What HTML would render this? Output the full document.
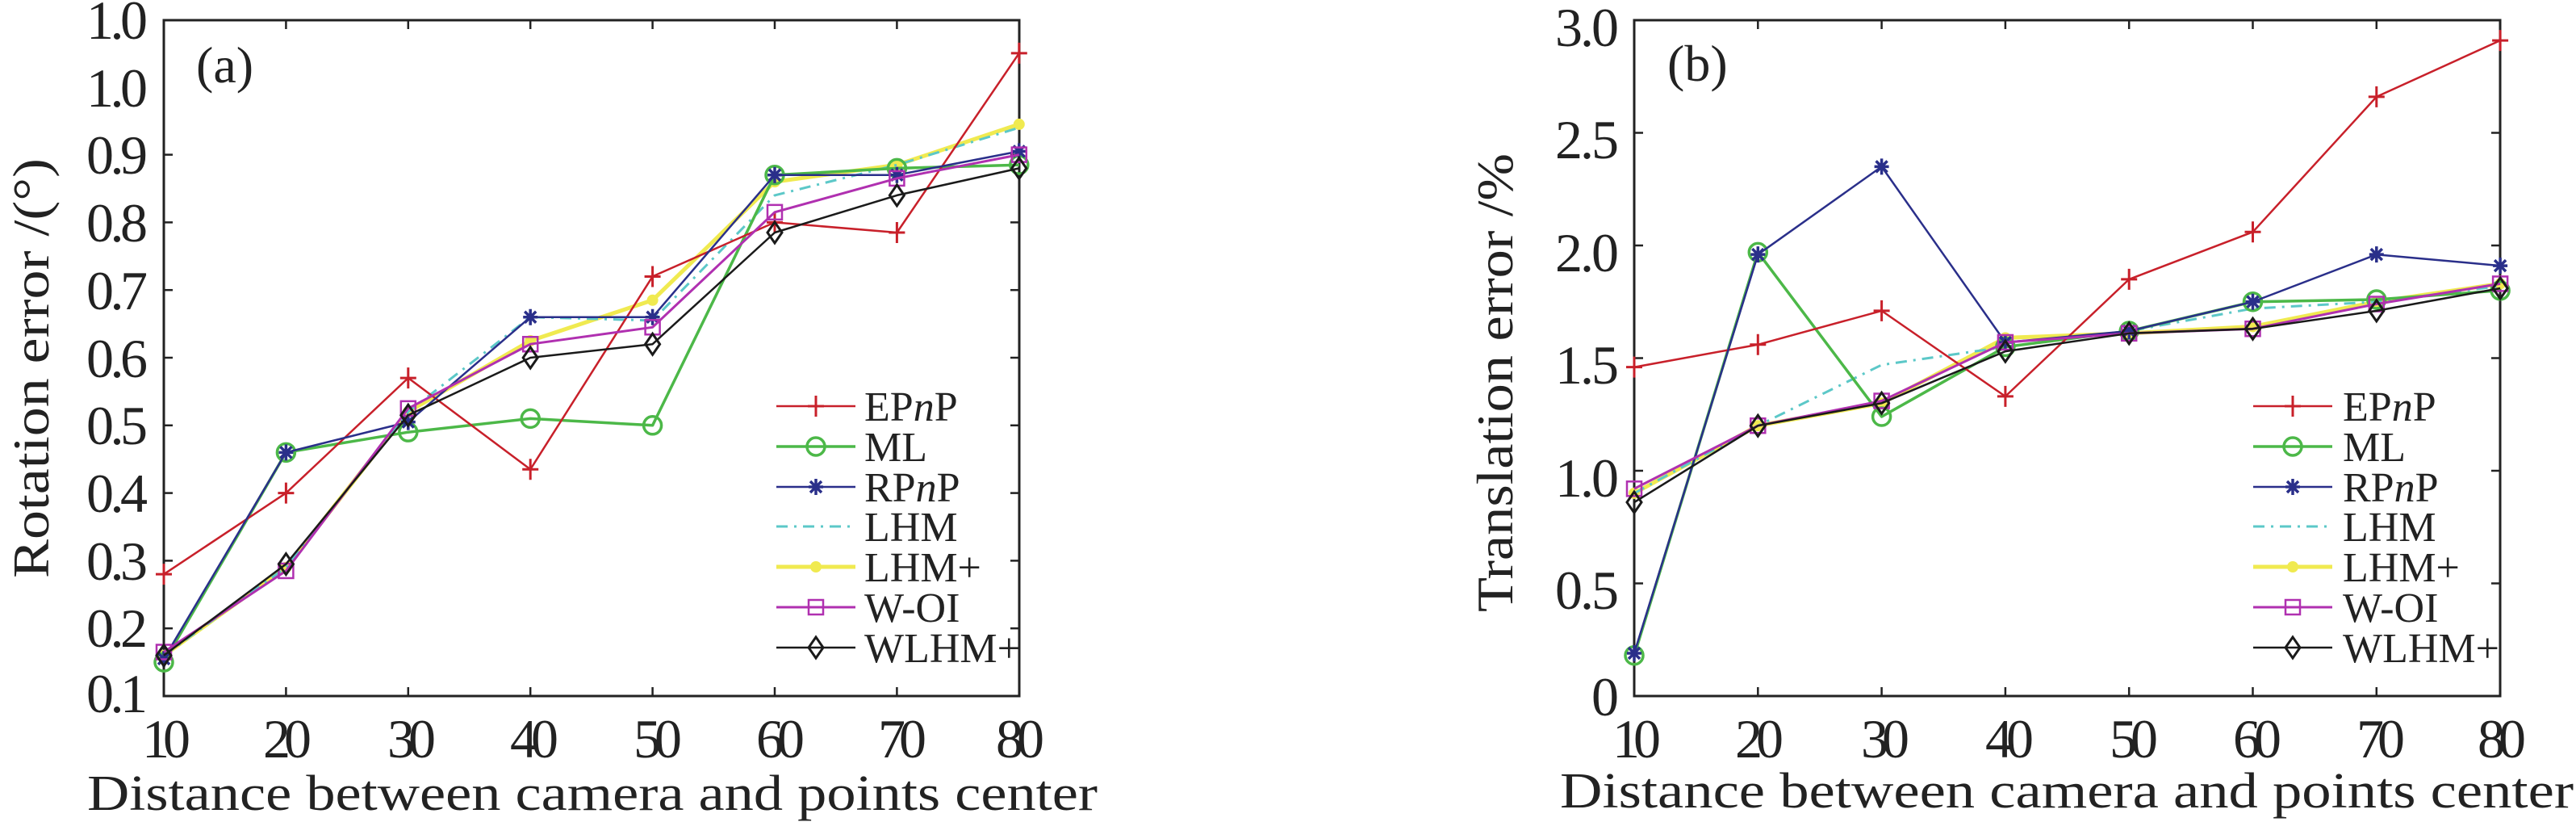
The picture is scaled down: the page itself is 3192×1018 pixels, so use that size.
<!DOCTYPE html>
<html><head><meta charset="utf-8"><style>
html,body{margin:0;padding:0;background:#fff;}
svg{display:block;}
text{font-family:"Liberation Serif",serif;fill:#222;}
</style></head><body>
<svg id="s" width="3192" height="1018" viewBox="0 0 3192 1018" xmlns="http://www.w3.org/2000/svg">
<rect width="3192" height="1018" fill="#fff"/>
<!-- Panel a -->
<rect x="203" y="25" width="1060" height="837" fill="none" stroke="#222" stroke-width="3"/>
<g font-size="68" text-anchor="end" lengthAdjust="spacingAndGlyphs">
<text x="183" y="48" textLength="76">1.0</text>
<text x="183" y="132" textLength="76">1.0</text>
<text x="183" y="215" textLength="76">0.9</text>
<text x="183" y="299" textLength="76">0.8</text>
<text x="183" y="383" textLength="76">0.7</text>
<text x="183" y="467" textLength="76">0.6</text>
<text x="183" y="550" textLength="76">0.5</text>
<text x="183" y="634" textLength="76">0.4</text>
<text x="183" y="718" textLength="76">0.3</text>
<text x="183" y="801" textLength="76">0.2</text>
<text x="183" y="882" textLength="76">0.1</text>
</g>
<g font-size="68" text-anchor="middle">
<text x="206" y="938" textLength="60">10</text><text x="356" y="938" textLength="60">20</text><text x="510" y="938" textLength="60">30</text><text x="662" y="938" textLength="60">40</text><text x="815" y="938" textLength="60">50</text><text x="967" y="938" textLength="60">60</text><text x="1118" y="938" textLength="60">70</text><text x="1264" y="938" textLength="60">80</text>
</g>
<text x="108" y="1003" font-size="62" textLength="1252" lengthAdjust="spacingAndGlyphs">Distance between camera and points center</text>
<text transform="translate(60,716) rotate(-90)" font-size="64" textLength="520" lengthAdjust="spacingAndGlyphs">Rotation error /(°)</text>
<text x="243" y="102" font-size="64">(a)</text>
<!-- Panel b -->
<rect x="2025" y="25" width="1073" height="837" fill="none" stroke="#222" stroke-width="3"/>
<g font-size="68" text-anchor="end">
<text x="2006" y="57" textLength="79">3.0</text>
<text x="2006" y="196" textLength="79">2.5</text>
<text x="2006" y="336" textLength="79">2.0</text>
<text x="2006" y="475" textLength="79">1.5</text>
<text x="2006" y="615" textLength="79">1.0</text>
<text x="2006" y="754" textLength="79">0.5</text>
<text x="2006" y="886">0</text>
</g>
<g font-size="68" text-anchor="middle">
<text x="2028" y="938" textLength="60">10</text><text x="2180" y="938" textLength="60">20</text><text x="2336" y="938" textLength="60">30</text><text x="2490" y="938" textLength="60">40</text><text x="2644" y="938" textLength="60">50</text><text x="2797" y="938" textLength="60">60</text><text x="2950" y="938" textLength="60">70</text><text x="3100" y="938" textLength="60">80</text>
</g>
<text x="1933" y="1000" font-size="62" textLength="1256" lengthAdjust="spacingAndGlyphs">Distance between camera and points center</text>
<text transform="translate(1874,758) rotate(-90)" font-size="64" textLength="568" lengthAdjust="spacingAndGlyphs">Translation error /%</text>
<text x="2066" y="100" font-size="64">(b)</text>
<g id="series"></g>
<!-- legends -->
<g font-size="52">
<text x="1071" y="521">EP<tspan font-style="italic">n</tspan>P</text>
<text x="1071" y="571">ML</text>
<text x="1071" y="621">RP<tspan font-style="italic">n</tspan>P</text>
<text x="1071" y="670">LHM</text>
<text x="1071" y="720">LHM+</text>
<text x="1071" y="770">W-OI</text>
<text x="1071" y="820">WLHM+</text>
<text x="2903" y="521">EP<tspan font-style="italic">n</tspan>P</text>
<text x="2903" y="571">ML</text>
<text x="2903" y="621">RP<tspan font-style="italic">n</tspan>P</text>
<text x="2903" y="670">LHM</text>
<text x="2903" y="720">LHM+</text>
<text x="2903" y="770">W-OI</text>
<text x="2903" y="820">WLHM+</text>
</g>
</svg>
<script>
var NS="http://www.w3.org/2000/svg",G=document.getElementById("series");
function el(n,a){var e=document.createElementNS(NS,n);for(var k in a)e.setAttribute(k,a[k]);G.appendChild(e);return e;}
var S=[
{c:"#c8202a",m:"plus",w:2.5},
{c:"#4cb848",m:"circle",w:3.5},
{c:"#2a2f8a",m:"star",w:2.5},
{c:"#5cc8c8",m:"none",w:3,d:"14 8 3 8"},
{c:"#f0ea50",m:"dot",w:5},
{c:"#b030b0",m:"square",w:3},
{c:"#1a1a1a",m:"diamond",w:2.5}];
var A=[[0.28,0.40,0.57,0.435,0.72,0.80,0.785,1.05],
[0.15,0.46,0.49,0.51,0.50,0.87,0.88,0.885],
[0.155,0.46,0.505,0.66,0.66,0.87,0.87,0.905],
[0.16,0.29,0.52,0.66,0.655,0.84,0.885,0.94],
[0.16,0.29,0.52,0.625,0.685,0.86,0.885,0.945],
[0.165,0.285,0.525,0.62,0.645,0.815,0.865,0.90],
[0.16,0.295,0.515,0.60,0.62,0.785,0.84,0.88]];
var B=[[1.46,1.56,1.71,1.33,1.85,2.06,2.66,2.91],
[0.18,1.97,1.24,1.55,1.62,1.75,1.76,1.80],
[0.19,1.96,2.35,1.57,1.62,1.75,1.96,1.91],
[0.9,1.2,1.47,1.55,1.62,1.72,1.75,1.82],
[0.9,1.2,1.3,1.59,1.61,1.64,1.75,1.83],
[0.92,1.2,1.31,1.57,1.61,1.63,1.74,1.83],
[0.86,1.2,1.3,1.53,1.61,1.63,1.71,1.81]];
var order=[4,3,1,0,2,5,6];
function marker(s,x,y){var c=s.c;
 if(s.m=="plus"){el("path",{d:"M"+(x-10)+" "+y+"h20M"+x+" "+(y-13)+"v26",stroke:c,"stroke-width":3});}
 else if(s.m=="circle"){el("circle",{cx:x,cy:y,r:11,fill:"none",stroke:c,"stroke-width":3.5});}
 else if(s.m=="star"){el("path",{d:"M"+(x-9)+" "+y+"h18M"+x+" "+(y-10)+"v20M"+(x-7)+" "+(y-7)+"l14 14M"+(x+7)+" "+(y-7)+"l-14 14",stroke:c,"stroke-width":3.5});}
 else if(s.m=="dot"){el("circle",{cx:x,cy:y,r:7,fill:c});}
 else if(s.m=="square"){el("rect",{x:x-9,y:y-9,width:18,height:18,fill:"none",stroke:c,"stroke-width":2.5});}
 else if(s.m=="diamond"){el("path",{d:"M"+x+" "+(y-13)+"l9 13l-9 13l-9-13z",fill:"none",stroke:c,"stroke-width":3});}
}
function draw(data,x0,dx,fy){
 order.forEach(function(i){var s=S[i],pts=[];
  data[i].forEach(function(v,j){pts.push((x0+j*dx).toFixed(1)+","+fy(v).toFixed(1));});
  var a={points:pts.join(" "),fill:"none",stroke:s.c,"stroke-width":s.w,"stroke-linejoin":"round"};
  if(s.d)a["stroke-dasharray"]=s.d;
  el("polyline",a);
  data[i].forEach(function(v,j){marker(s,x0+j*dx,fy(v));});
 });
}
function ticks(x0,x1,dx,ys){
 for(var j=1;j<7;j++){var x=x0+j*dx;el("line",{x1:x,y1:862,x2:x,y2:851,stroke:"#222","stroke-width":2.5});el("line",{x1:x,y1:25,x2:x,y2:36,stroke:"#222","stroke-width":2.5});}
 ys.forEach(function(y){el("line",{x1:x0,y1:y,x2:x0+11,y2:y,stroke:"#222","stroke-width":2.5});el("line",{x1:x1,y1:y,x2:x1-11,y2:y,stroke:"#222","stroke-width":2.5});});
}
var ya=[];for(var k=1;k<9;k++)ya.push(862-k*83.8);
ticks(203,1263,151.4,ya);
var yb=[];for(var k=1;k<6;k++)yb.push(862-k*139.5);
ticks(2025,3098,153.3,yb);
draw(A,203,151.4,function(v){return 862-(v-0.1)*838;});
draw(B,2025,153.3,function(v){return 862-v*279;});
function legend(x1,x2){
 var ys=[503,553,603,652,702,752,802];
 S.forEach(function(s,i){var a={x1:x1,y1:ys[i],x2:x2,y2:ys[i],stroke:s.c,"stroke-width":s.w};
  if(s.d)a["stroke-dasharray"]=s.d;el("line",a);marker(s,(x1+x2)/2,ys[i]);});
}
legend(962,1060);legend(2792,2890);
</script>
</body></html>
